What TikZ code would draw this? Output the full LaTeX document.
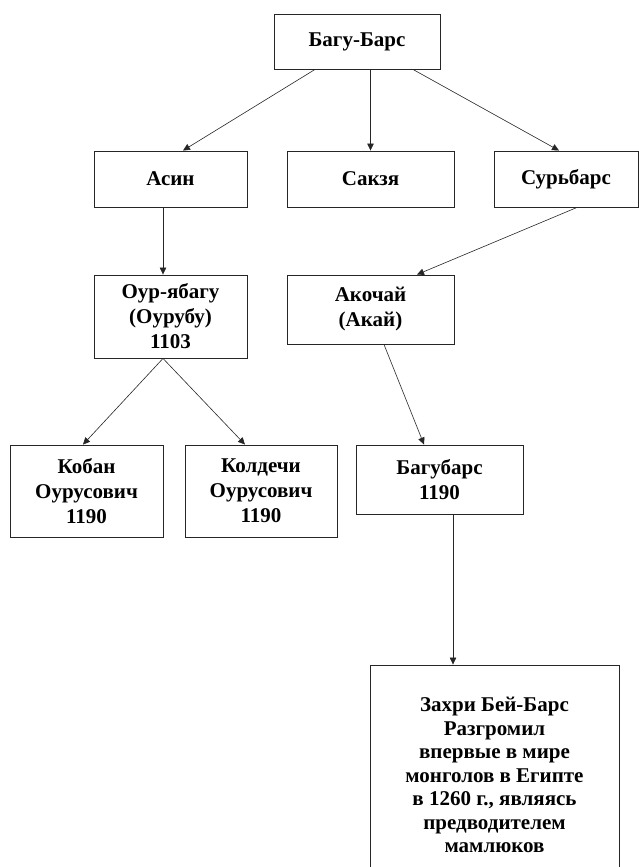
\documentclass[tikz,border=0pt]{standalone}
\usepackage{fontspec}
\setmainfont{Liberation Serif}
\usepackage{tikz}
\usetikzlibrary{calc, arrows.meta}
\usetikzlibrary{positioning}

\tikzset{
  box/.style={draw=black!85, line width=0.9pt, align=center, inner sep=0pt,
    font=\fontsize{21}{25}\selectfont\bfseries},
}

\begin{document}
\begin{tikzpicture}[x=1pt,y=-1pt,>={Triangle[length=7pt,width=6.5pt]}]
            \useasboundingbox (0,0) rectangle (639,867); %枠
            \clip (0,0) rectangle (639,867);
            \node[box, minimum width=166pt, minimum height=55pt] (bagu) at (357,41.5) {Багу-Барс}; %上段
            \node[box, minimum width=153pt, minimum height=56pt] (asin) at (170.5,179) {Асин}; %二段目
            \node[box, minimum width=167pt, minimum height=56pt] (saksya) at (370.5,179) {Сакзя};
            \node[box, minimum width=144pt, minimum height=56pt] (surbars) at (566,179) {Сурьбарс};
            \node[box, minimum width=153pt, minimum height=83pt] (ouryabagu) at (170.5,316.5) {Оур-ябагу\\(Оурубу)\\1103}; %三段目
            \node[box, minimum width=167pt, minimum height=69pt] (akochay) at (370.5,309.5) {Акочай\\(Акай)};
            \node[box, minimum width=153pt, minimum height=92pt] (koban) at (86.5,491) {Кобан\\Оурусович\\1190}; %四段目
            \node[box, minimum width=152pt, minimum height=92pt] (koldechi) at (261,491) {Колдечи\\Оурусович\\1190};
            \node[box, minimum width=167pt, minimum height=69pt] (bagubars) at (439.5,479.5) {Багубарс\\1190};
            \node[box, minimum width=249pt, minimum height=220pt, font=\fontsize{21}{23.5}\selectfont\bfseries] (zahri) at (494.5,775) {Захри Бей-Барс\\Разгромил\\впервые в мире\\монголов в Египте\\в 1260 г., являясь\\предводителем\\мамлюков}; %下段
            \draw[->,black!85,semithick] ([xshift=-42pt]bagu.south) --([xshift=12.5pt]asin.north);
            \draw[->,black!85,semithick] (bagu.south -| saksya.north) --(saksya.north);
            \draw[->,black!85,semithick] ([xshift=56pt]bagu.south) --([xshift=-7pt]surbars.north);
            \draw[->,black!85,semithick] ([xshift=-7.5pt]asin.south) --([xshift=-7.5pt]ouryabagu.north);
            \draw[->,black!85,semithick] ([xshift=11pt]surbars.south) --([xshift=46.5pt]akochay.north);
            \draw[->,black!85,semithick] ([xshift=-7.5pt]ouryabagu.south) --([xshift=-3.5pt]koban.north);
            \draw[->,black!85,semithick] ([xshift=-7.5pt]ouryabagu.south) --([xshift=-16pt]koldechi.north);
            \draw[->,black!85,semithick] ([xshift=13.5pt]akochay.south) --([xshift=-15.5pt]bagubars.north);
            \draw[->,black!85,semithick] ([xshift=13.5pt]bagubars.south) --([xshift=-41.5pt]zahri.north);
        \end{tikzpicture}
\end{document}
